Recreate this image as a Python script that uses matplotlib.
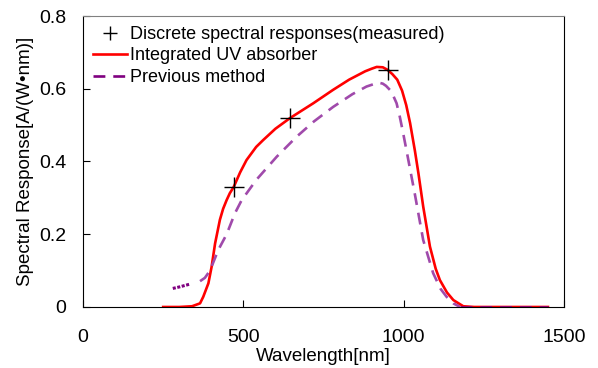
import matplotlib.pyplot as plt

plt.rcParams['font.family'] = ['Liberation Sans', 'DejaVu Sans']

# measured points
meas_x = [470, 645, 950]
meas_y = [0.33, 0.52, 0.652]

# integrated UV absorber
uv_x = [250, 300, 340, 365, 375, 391, 401, 412, 427, 437, 448, 458, 470, 490, 510, 540,
        562, 600, 645, 677, 718, 780, 830, 880, 900, 916, 935, 950, 965, 980, 995, 1008,
        1020, 1035, 1046, 1061, 1082, 1100, 1113, 1135, 1155, 1186, 1220, 1450]
uv_y = [0, 0, 0.002, 0.01, 0.028, 0.065, 0.11, 0.175, 0.24, 0.27, 0.294, 0.313, 0.33, 0.37,
        0.404, 0.44, 0.459, 0.49, 0.519, 0.537, 0.56, 0.597, 0.625, 0.648, 0.655, 0.66,
        0.659, 0.652, 0.64, 0.625, 0.595, 0.555, 0.506, 0.43, 0.368, 0.276, 0.166, 0.105,
        0.074, 0.04, 0.019, 0.002, 0, 0]

# previous method
prev_lo_x = [280, 300, 334]
prev_lo_y = [0.051, 0.055, 0.063]
prev_x = [365, 380, 396, 422, 448, 474, 495, 541, 604, 666, 720, 780, 840, 884, 921,
          935, 945, 957, 968, 978, 988, 998, 1009, 1035, 1061, 1092, 1115, 1134, 1155, 1176]
prev_y = [0.071, 0.08, 0.10, 0.157, 0.20, 0.258, 0.294, 0.35, 0.413, 0.468, 0.51, 0.55,
          0.585, 0.606, 0.617, 0.614, 0.608, 0.597, 0.58, 0.56, 0.523, 0.48, 0.43, 0.31,
          0.184, 0.093, 0.05, 0.028, 0.01, 0]
prev_hi_x = [1176, 1450]
prev_hi_y = [0, 0]

fig = plt.figure(figsize=(5.98, 3.68), dpi=100)
ax = fig.add_axes([0.1388, 0.1658, 0.9431 - 0.1388, 0.9565 - 0.1658])

ax.plot(uv_x, uv_y, color='red', linewidth=1.9, label='Integrated UV absorber', zorder=2)
ax.plot(prev_lo_x, prev_lo_y, color='#800080', linewidth=2.2, linestyle=(0, (1, 0.5)), zorder=3)
ax.plot(prev_x, prev_y, color='#a04aab', linewidth=1.9, linestyle=(0, (4.5, 3)), zorder=3)
ax.plot(prev_hi_x, prev_hi_y, color='#800080', linewidth=1.9, linestyle=(0, (4.5, 3)),
        label='Previous method', zorder=3)
ax.plot(meas_x, meas_y, linestyle='none', marker='+', markersize=15, markeredgewidth=1.0,
        color='black', label='Discrete spectral responses(measured)', zorder=4)

ax.set_xlim(0, 1500)
ax.set_ylim(0, 0.8)
ax.set_xticks([0, 500, 1000, 1500])
ax.set_yticks([0, 0.2, 0.4, 0.6, 0.8])
ax.set_yticklabels(['0', '0.2', '0.4', '0.6', '0.8'])
ax.tick_params(direction='in', length=5, labelsize=14)
ax.tick_params(axis='x', pad=16)
ax.tick_params(axis='y', pad=12)
ax.spines['top'].set_color('#808080')

ax.set_xlabel('Wavelength[nm]', fontsize=13.5, labelpad=1)
ax.set_ylabel('Spectral Response[A/(W\u2022nm)]', fontsize=13.5, labelpad=4)

h, l = ax.get_legend_handles_labels()
order = [2, 0, 1]
leg = ax.legend([h[i] for i in order], [l[i] for i in order], loc='upper left', frameon=False,
                fontsize=13, handlelength=1.9, handletextpad=0.15, labelspacing=0.25,
                borderaxespad=0.2, borderpad=0.35, bbox_to_anchor=(0.0, 1.0),
                markerscale=0.7)

fig.savefig('out.png', dpi=100)
